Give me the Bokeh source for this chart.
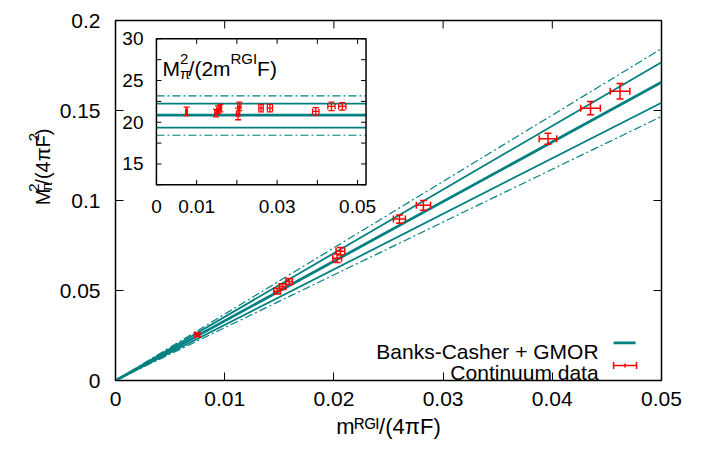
import math
from bokeh.plotting import figure
from bokeh.models import (ColumnDataSource, Whisker, TeeHead, FixedTicker, Label, Range1d)
from bokeh.layouts import row
from bokeh.core.properties import value
from bokeh.embed import file_html
from bokeh.resources import INLINE

# ---------------- data ----------------
# continuum data points: m^RGI/(4 pi F) and M_pi^2/(4 pi F)^2
m_x = [0.0075, 0.0148, 0.0153, 0.0159, 0.0203, 0.0206, 0.0260, 0.0282, 0.0396, 0.0435, 0.0462]
m_dx = [0.0002, 0.0003, 0.0003, 0.0003, 0.0004, 0.0004, 0.00055, 0.00065, 0.0008, 0.0009, 0.0009]
m_y = [0.0254, 0.0496, 0.0522, 0.0550, 0.0679, 0.0718, 0.0897, 0.0973, 0.1343, 0.1513, 0.1607]
m_dy = [0.0009, 0.0016, 0.0016, 0.0017, 0.0024, 0.0021, 0.0023, 0.0027, 0.0030, 0.0037, 0.0043]
# inset: M_pi^2/(2 m^RGI F)
ratio = [21.3, 21.1, 21.5, 21.7, 21.0, 21.9, 21.7, 21.7, 21.3, 21.9, 21.9]
dratio = [0.5, 0.45, 0.45, 0.45, 0.7, 0.5, 0.45, 0.45, 0.45, 0.5, 0.45]

# Banks-Casher + GMOR band: lines through origin, value at x = 0.05
line_x = [0.0, 0.05]
band_end = {"dd_lo": 0.1467, "lo": 0.1543, "mid": 0.1657, "hi": 0.1768, "dd_hi": 0.1843}
# same band in the inset (constant levels)
band_level = {"dd_lo": 18.44, "lo": 19.36, "mid": 20.84, "hi": 22.24, "dd_hi": 23.16}

x_ticks = [0, 0.01, 0.02, 0.03, 0.04, 0.05]
x_tick_labels = ["0", "0.01", "0.02", "0.03", "0.04", "0.05"]
y_ticks = [0, 0.05, 0.1, 0.15, 0.2]
y_tick_labels = ["0", "0.05", "0.1", "0.15", "0.2"]
ix_ticks = [0, 0.01, 0.02, 0.03, 0.04, 0.05]
ix_tick_labels = ["0", "0.01", "", "0.03", "", "0.05"]
iy_ticks = [12.5, 15, 17.5, 20, 22.5, 25, 27.5, 30]
iy_tick_labels = ["", "15", "", "20", "", "25", "", "30"]

x_axis_title = "mᴿᴳᴵ/(4πF)"
legend_labels = ["Banks-Casher + GMOR", "Continuum data"]

# ---------------- style ----------------
FONT = "Liberation Sans"
FS = 21
SS = 15
TEAL = "#008080"
RED = "#ff0000"
BAND_STYLE = [("dd_lo", 1.2, "8 3 2 3"), ("lo", 1.8, "solid"), ("mid", 2.8, "solid"),
              ("hi", 1.8, "solid"), ("dd_hi", 1.2, "8 3 2 3")]

WT = {"M": .833, "m": .833, "π": .58, "2": .556, "4": .556, "/": .278, "(": .333,
      ")": .333, "F": .611, "R": .722, "G": .778, "I": .278, " ": .278}


def tw(s, size):
    return sum(WT.get(c, .556) for c in s) * size


# ---------------- layout geometry (page pixels) ----------------
YLW = 56                 # width of y-label strip
PW, PH = 639, 446        # main figure
F_LEFT, F_TOP, F_W, F_H = 114, 20, 547, 360     # main frame on page
XR, YR = (0.0, 0.05), (0.0, 0.2)
# inset frame on page and its data ranges
I_LEFT, I_RIGHT, I_TOP, I_BOT = 155, 365, 38.3, 184.3
IXR, IYR = (0.0, 0.0521), (12.5, 30.0)

# ---------------- main figure ----------------
p = figure(width=PW, height=PH, x_range=Range1d(*XR), y_range=Range1d(*YR),
           output_backend="svg", toolbar_location=None, title=None,
           min_border_left=F_LEFT - YLW, min_border_top=F_TOP,
           min_border_right=PW - (F_LEFT - YLW) - F_W, min_border_bottom=PH - F_TOP - F_H)
p.grid.visible = False
p.outline_line_color = "black"
p.outline_line_width = 1.5
p.outline_line_alpha = 1
p.background_fill_color = "white"
p.border_fill_color = "white"


def mx(px):   # page x -> main data x
    return XR[0] + (px - F_LEFT) / F_W * (XR[1] - XR[0])


def my(py):   # page y -> main data y
    return YR[0] + (F_TOP + F_H - py) / F_H * (YR[1] - YR[0])


for ax, ticks, labels, standoff in [(p.xaxis[0], x_ticks, x_tick_labels, 11),
                                    (p.yaxis[0], y_ticks, y_tick_labels, 15)]:
    ax.ticker = FixedTicker(ticks=ticks)
    ax.major_label_overrides = {t: l for t, l in zip(ticks, labels)}
    ax.major_tick_in = 8
    ax.major_tick_out = 0
    ax.minor_tick_in = 0
    ax.minor_tick_out = 0
    ax.major_tick_line_color = "black"
    ax.axis_line_color = None
    ax.major_label_text_font = FONT
    ax.major_label_text_font_size = f"{FS}px"
    ax.major_label_text_color = "black"
    ax.major_label_standoff = standoff

p.xaxis.axis_label = x_axis_title
p.xaxis.axis_label_text_font = FONT
p.xaxis.axis_label_text_font_size = "22px"
p.xaxis.axis_label_text_font_style = "normal"
p.xaxis.axis_label_text_color = "black"
p.xaxis.axis_label_standoff = 5

# mirror ticks (top and right borders)
tx = (XR[1] - XR[0]) / F_W * 8
ty = (YR[1] - YR[0]) / F_H * 8
p.segment(x0=x_ticks, y0=[YR[1]] * len(x_ticks), x1=x_ticks, y1=[YR[1] - ty] * len(x_ticks),
          line_color="black", line_width=1)
p.segment(x0=[XR[1]] * len(y_ticks), y0=y_ticks, x1=[XR[1] - tx] * len(y_ticks), y1=y_ticks,
          line_color="black", line_width=1)

# band lines
for key, w, dash in BAND_STYLE:
    p.line(line_x, [0.0, band_end[key]], line_color=TEAL, line_width=w, line_dash=dash)

src = ColumnDataSource(dict(
    x=m_x, y=m_y,
    xl=[a - b for a, b in zip(m_x, m_dx)], xu=[a + b for a, b in zip(m_x, m_dx)],
    yl=[a - b for a, b in zip(m_y, m_dy)], yu=[a + b for a, b in zip(m_y, m_dy)]))


def head(size=7, w=1.5):
    return TeeHead(size=size, line_color=RED, line_width=w)


p.add_layout(Whisker(source=src, base="x", lower="yl", upper="yu", dimension="height",
                     line_color=RED, line_width=1.5, lower_head=head(), upper_head=head(),
                     level="overlay"))
p.add_layout(Whisker(source=src, base="y", lower="xl", upper="xu", dimension="width",
                     line_color=RED, line_width=1.5, lower_head=head(), upper_head=head(),
                     level="overlay"))


def lab(x, y, text, size, align="left", baseline="alphabetic"):
    p.add_layout(Label(x=x, y=y, text=text, text_font=FONT, text_font_size=f"{size}px",
                       text_color="black", text_align=align, text_baseline=baseline))


# legend (gnuplot style: text right aligned, sample on the right)
lab(mx(598), my(350.5), legend_labels[0], FS, align="right")
lab(mx(598), my(372.3), legend_labels[1], FS, align="right")
p.segment(x0=[mx(613)], y0=[my(342.3)], x1=[mx(635)], y1=[my(342.3)],
          line_color=TEAL, line_width=2.8)
p.segment(x0=[mx(613)], y0=[my(365)], x1=[mx(636)], y1=[my(365)],
          line_color=RED, line_width=1.5)
p.segment(x0=[mx(613), mx(624.5), mx(636)], y0=[my(361.5), my(363), my(361.5)],
          x1=[mx(613), mx(624.5), mx(636)], y1=[my(368.5), my(367), my(368.5)],
          line_color=RED, line_width=1.5)

# ---------------- inset (own ranges inside the main frame) ----------------
kx = (IXR[1] - IXR[0]) / (I_RIGHT - I_LEFT)
ky = (IYR[1] - IYR[0]) / (I_BOT - I_TOP)
ixs = IXR[0] - (I_LEFT - F_LEFT) * kx
iys = IYR[0] - (F_TOP + F_H - I_BOT) * ky
p.extra_x_ranges = {"ix": Range1d(ixs, ixs + F_W * kx)}
p.extra_y_ranges = {"iy": Range1d(iys, iys + F_H * ky)}
IR = dict(x_range_name="ix", y_range_name="iy")


def ix(px):
    return IXR[0] + (px - I_LEFT) * kx


def iy(py):
    return IYR[1] - (py - I_TOP) * ky


p.quad(left=[IXR[0]], right=[IXR[1]], bottom=[IYR[0]], top=[IYR[1]],
       fill_color="white", line_color=None, **IR)

for key, w, dash in BAND_STYLE:
    p.segment(x0=[IXR[0]], x1=[IXR[1]], y0=[band_level[key]], y1=[band_level[key]],
              line_color=TEAL, line_width=w, line_dash=dash, **IR)

# inset error bars (segments + caps)
cap_x = 3 * kx
cap_y = 3 * ky
ixl = [a - b for a, b in zip(m_x, m_dx)]
ixu = [a + b for a, b in zip(m_x, m_dx)]
iyl = [a - b for a, b in zip(ratio, dratio)]
iyu = [a + b for a, b in zip(ratio, dratio)]
EB = dict(line_color=RED, line_width=1.3, **IR)
p.segment(x0=m_x, x1=m_x, y0=iyl, y1=iyu, **EB)
p.segment(x0=ixl, x1=ixu, y0=ratio, y1=ratio, **EB)
p.segment(x0=[a - cap_x for a in m_x] * 2, x1=[a + cap_x for a in m_x] * 2,
          y0=iyl + iyu, y1=iyl + iyu, **EB)
p.segment(x0=ixl + ixu, x1=ixl + ixu, y0=[a - cap_y for a in ratio] * 2,
          y1=[a + cap_y for a in ratio] * 2, **EB)

# inset frame and ticks
p.quad(left=[IXR[0]], right=[IXR[1]], bottom=[IYR[0]], top=[IYR[1]],
       fill_color=None, line_color="black", line_width=1.5, **IR)
itx = 5 * kx
ity = 5 * ky
n, m = len(ix_ticks), len(iy_ticks)
p.segment(x0=ix_ticks * 2, x1=ix_ticks * 2,
          y0=[IYR[0]] * n + [IYR[1]] * n, y1=[IYR[0] + ity] * n + [IYR[1] - ity] * n,
          line_color="black", line_width=1, **IR)
p.segment(y0=iy_ticks * 2, y1=iy_ticks * 2,
          x0=[IXR[0]] * m + [IXR[1]] * m, x1=[IXR[0] + itx] * m + [IXR[1] - itx] * m,
          line_color="black", line_width=1, **IR)
p.text(x=ix_ticks, y=[iy(199)] * n, text=ix_tick_labels, text_font=value(FONT),
       text_font_size=value("19px"), text_align="center", text_baseline="top",
       text_color="black", **IR)
p.text(x=[ix(142)] * m, y=iy_ticks, text=iy_tick_labels, text_font=value(FONT),
       text_font_size=value("19px"), text_align="right", text_baseline="middle",
       text_color="black", **IR)

# inset title  M_π^2/(2m^RGI F)
adv_pi = max(tw("π", SS), tw("2", SS))
tx0, tb = 161, 68
pieces = [("M", FS, 0, tw("M", FS)), ("π", SS, 5, 0), ("2", SS, -10, adv_pi),
          ("/(2m", FS, 0, tw("/(2m", FS)), ("RGI", SS, -10, tw("RGI", SS)), ("F)", FS, 0, 0)]
for t, s, off, adv in pieces:
    lab(mx(tx0), my(tb + off), t, s)
    tx0 += adv

# ---------------- y-axis label strip ----------------
yl = figure(width=YLW, height=PH, x_range=Range1d(0, YLW), y_range=Range1d(PH, 0),
            x_axis_type=None, y_axis_type=None, output_backend="svg", title=None,
            toolbar_location=None, min_border=0, min_border_left=0, min_border_right=0,
            min_border_top=0, min_border_bottom=0)
yl.outline_line_color = None
yl.grid.visible = False


def strip_text(fig, xs, ys, texts, sizes, angle=0.0):
    for x, y, t, s in zip(xs, ys, texts, sizes):
        fig.text(x=[x], y=[y], text=[t], text_font=value(FONT), text_font_size=value(f"{s}px"),
                 text_align="left", text_baseline="alphabetic", text_color="black", angle=angle)


# y label: M_π^2/(4πF)^2 (reads bottom to top)
YFS = 20
bx, cy = 42, 185
total = tw("M", YFS) + adv_pi + tw("/(4πF)", YFS) + tw("2", SS)
y0 = cy + total / 2
ys_ = [y0, y0 - tw("M", YFS), y0 - tw("M", YFS),
       y0 - tw("M", YFS) - adv_pi, y0 - tw("M", YFS) - adv_pi - tw("/(4πF)", YFS)]
xs_ = [bx, bx + 4, bx - 9, bx, bx - 9]
strip_text(yl, xs_, ys_, ["M", "π", "2", "/(4πF)", "2"], [YFS, SS, SS, YFS, SS], math.pi / 2)

layout = row(yl, p)
open("out.html", "w").write(file_html(layout, INLINE))
